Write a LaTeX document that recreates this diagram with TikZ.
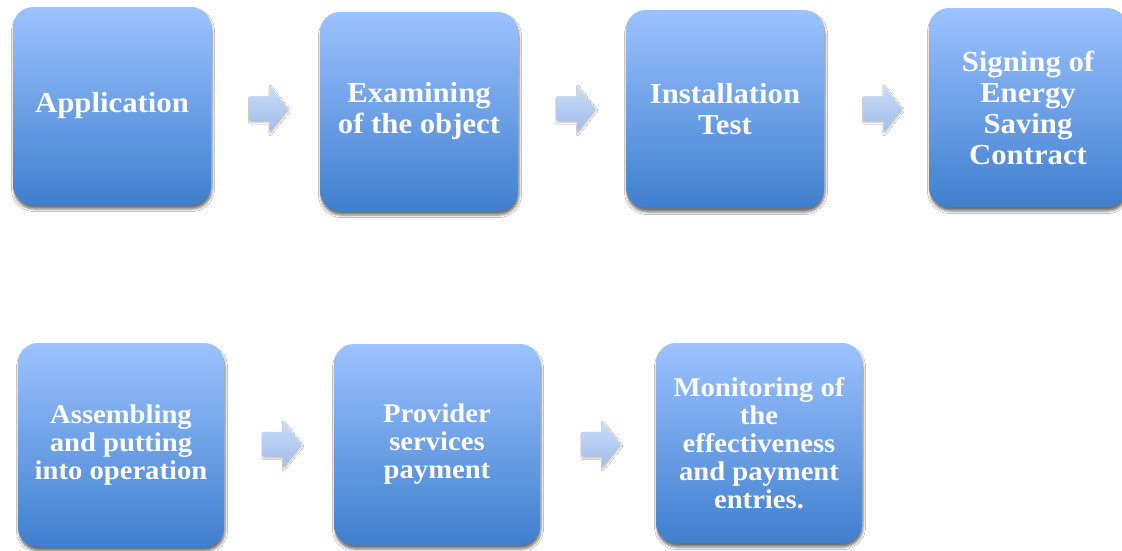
\documentclass[tikz,border=0pt]{standalone}
\usepackage{fontspec}
\setmainfont{Liberation Serif}[FakeStretch=1.06]
\usetikzlibrary{shapes.arrows,shadows.blur}
\definecolor{btop}{HTML}{9CC2FF}
\definecolor{bbot}{HTML}{3F7FCE}
\definecolor{atop}{HTML}{CADCF8}
\definecolor{abot}{HTML}{A0BDEB}
\tikzset{
  stepbox/.style={rectangle, rounded corners=20pt, top color=btop, bottom color=bbot,
    draw=none, text=white, align=center, inner sep=0pt,
    blur shadow={shadow xshift=1pt, shadow yshift=-4pt, shadow blur steps=5,
      shadow opacity=55, shadow blur radius=2.5pt}},
  bigtxt/.style={font=\fontsize{29}{31}\selectfont\bfseries},
  smalltxt/.style={font=\fontsize{27}{28}\selectfont\bfseries},
  flowarrow/.style={single arrow, draw=none, top color=atop, bottom color=abot,
    inner xsep=0pt, inner ysep=12pt, minimum height=39pt,
    single arrow head extend=11.5pt, single arrow tip angle=104,
    blur shadow={shadow xshift=1pt, shadow yshift=-2pt, shadow blur steps=4,
      shadow opacity=25, shadow blur radius=1.5pt}}
}
\begin{document}
\begin{tikzpicture}[x=1pt,y=-1pt]
\clip (0,0) rectangle (1122,550);
\fill[white] (0,0) rectangle (1122,550);
% row 1
\node[stepbox, bigtxt, minimum width=198pt, minimum height=198pt] (b1) at (112,106) {Application};
\node[stepbox, bigtxt, minimum width=198pt, minimum height=199pt] (b2) at (419,111.5) {Examining\\of the object};
\node[stepbox, bigtxt, minimum width=198pt, minimum height=198pt] (b3) at (725,109) {Installation\\Test};
\node[stepbox, bigtxt, minimum width=198pt, minimum height=199pt] (b4) at (1028,107.5) {Signing of\\Energy\\Saving\\Contract};
% row 2
\node[stepbox, smalltxt, minimum width=206pt, minimum height=204pt] (b5) at (121,445) {Assembling\\and putting\\into operation};
\node[stepbox, smalltxt, minimum width=206pt, minimum height=201pt] (b6) at (437,444.5) {Provider\\services\\payment};
\node[stepbox, smalltxt, minimum width=206pt, minimum height=200pt] (b7) at (759,443) {Monitoring of\\the\\effectiveness\\and payment\\entries.};
% arrows
\node[flowarrow] (a1) at (263.5,108.5) {};
\node[flowarrow] (a2) at (571,108.5) {};
\node[flowarrow] (a3) at (877.5,108.5) {};
\node[flowarrow] (a4) at (277,444) {};
\node[flowarrow] (a5) at (596,444) {};
\end{tikzpicture}
\end{document}
